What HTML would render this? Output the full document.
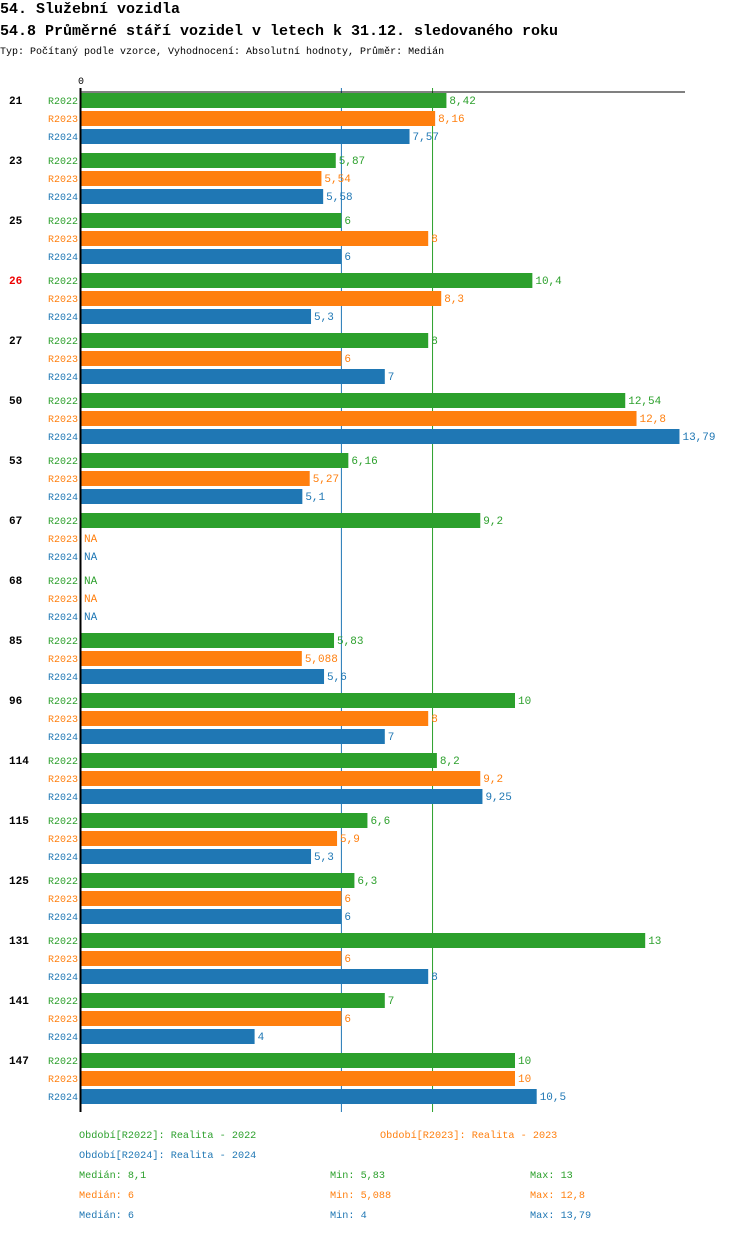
<!DOCTYPE html>
<html><head><meta charset="utf-8"><style>
body{margin:0;background:#fff;width:750px;height:1232px;overflow:hidden;font-family:"Liberation Mono",monospace}
svg text{font-family:"Liberation Mono",monospace}
</style></head><body>
<svg id="c" width="750" height="1232" xmlns="http://www.w3.org/2000/svg">
<text x="0" y="13" font-size="15" font-weight="bold" fill="#000" textLength="180" lengthAdjust="spacingAndGlyphs">54. Služební vozidla</text>
<text x="0" y="35" font-size="15" font-weight="bold" fill="#000" textLength="558" lengthAdjust="spacingAndGlyphs">54.8 Průměrné stáří vozidel v letech k 31.12. sledovaného roku</text>
<text x="0" y="54" font-size="10" fill="#000">Typ: Počítaný podle vzorce, Vyhodnocení: Absolutní hodnoty, Průměr: Medián</text>
<text x="78" y="84" font-size="10" fill="#000">0</text>
<g id="bars"></g>
<g id="legend" font-size="10.2">
<text x="79" y="1138" fill="#2ca02c">Období[R2022]: Realita - 2022</text>
<text x="380" y="1138" fill="#ff7f0e">Období[R2023]: Realita - 2023</text>
<text x="79" y="1158" fill="#1f77b4">Období[R2024]: Realita - 2024</text>
<text x="79" y="1178" fill="#2ca02c">Medián: 8,1</text>
<text x="330" y="1178" fill="#2ca02c">Min: 5,83</text>
<text x="530" y="1178" fill="#2ca02c">Max: 13</text>
<text x="79" y="1198" fill="#ff7f0e">Medián: 6</text>
<text x="330" y="1198" fill="#ff7f0e">Min: 5,088</text>
<text x="530" y="1198" fill="#ff7f0e">Max: 12,8</text>
<text x="79" y="1218" fill="#1f77b4">Medián: 6</text>
<text x="330" y="1218" fill="#1f77b4">Min: 4</text>
<text x="530" y="1218" fill="#1f77b4">Max: 13,79</text>
</g>
</svg>
<script>
const categories=["21","23","25","26","27","50","53","67","68","85","96","114","115","125","131","141","147"];
const seriesNames=["R2022","R2023","R2024"];
const r2022=[8.42,5.87,6,10.4,8,12.54,6.16,9.2,null,5.83,10,8.2,6.6,6.3,13,7,10];
const r2023=[8.16,5.54,8,8.3,6,12.8,5.27,null,null,5.088,8,9.2,5.9,6,6,6,10];
const r2024=[7.57,5.58,6,5.3,7,13.79,5.1,null,null,5.6,7,9.25,5.3,6,8,4,10.5];
const medians=[8.1,6,6];
const highlighted=["26"];
const colors=["#2ca02c","#ff7f0e","#1f77b4"];
const NS="http://www.w3.org/2000/svg";
const x0=81,pxPerUnit=43.4;
const xs=v=>x0+v*pxPerUnit;
const groupY=i=>93+i*60;
const g=document.getElementById('bars');
function mk(t,a){const e=document.createElementNS(NS,t);for(const k in a)e.setAttribute(k,a[k]);return e;}
const all=[r2022,r2023,r2024];
const bottom=groupY(categories.length-1)+59;
[2,0].forEach(j=>{
  const ml=mk('line',{x1:xs(medians[j]),x2:xs(medians[j]),y1:88,y2:bottom,stroke:colors[j],'stroke-width':1});
  
  
  g.appendChild(ml);
});
categories.forEach((c,i)=>{
  const gy=groupY(i);
  const t=mk('text',{x:9,y:gy+11,'font-size':11,'font-weight':'bold',fill:highlighted.includes(c)?'#e00':'#000'});
  
  
  t.textContent=c;g.appendChild(t);
  all.forEach((s,j)=>{
    const y=gy+j*18,v=s[i];
    const l=mk('text',{x:78,y:y+11,'font-size':10,fill:colors[j],'text-anchor':'end'});
    
    
    l.textContent=seriesNames[j];g.appendChild(l);
    if(v!=null){
      const r=mk('rect',{x:x0,y:y,width:xs(v)-x0,height:15,fill:colors[j]});
      
      
      g.appendChild(r);
    }
    const vt=mk('text',{x:(v!=null?xs(v):x0)+3,y:y+11,'font-size':11,fill:colors[j]});
    
    
    vt.textContent=v!=null?String(v).replace('.',','):'NA';g.appendChild(vt);
  });
});
const ax=mk('line',{x1:x0-1,x2:685,y1:92,y2:92,stroke:'#000','stroke-width':1});


g.appendChild(ax);
const ay=mk('line',{x1:x0-0.5,x2:x0-0.5,y1:88,y2:bottom,stroke:'#000','stroke-width':2});


g.appendChild(ay);
</script>
</body></html>
